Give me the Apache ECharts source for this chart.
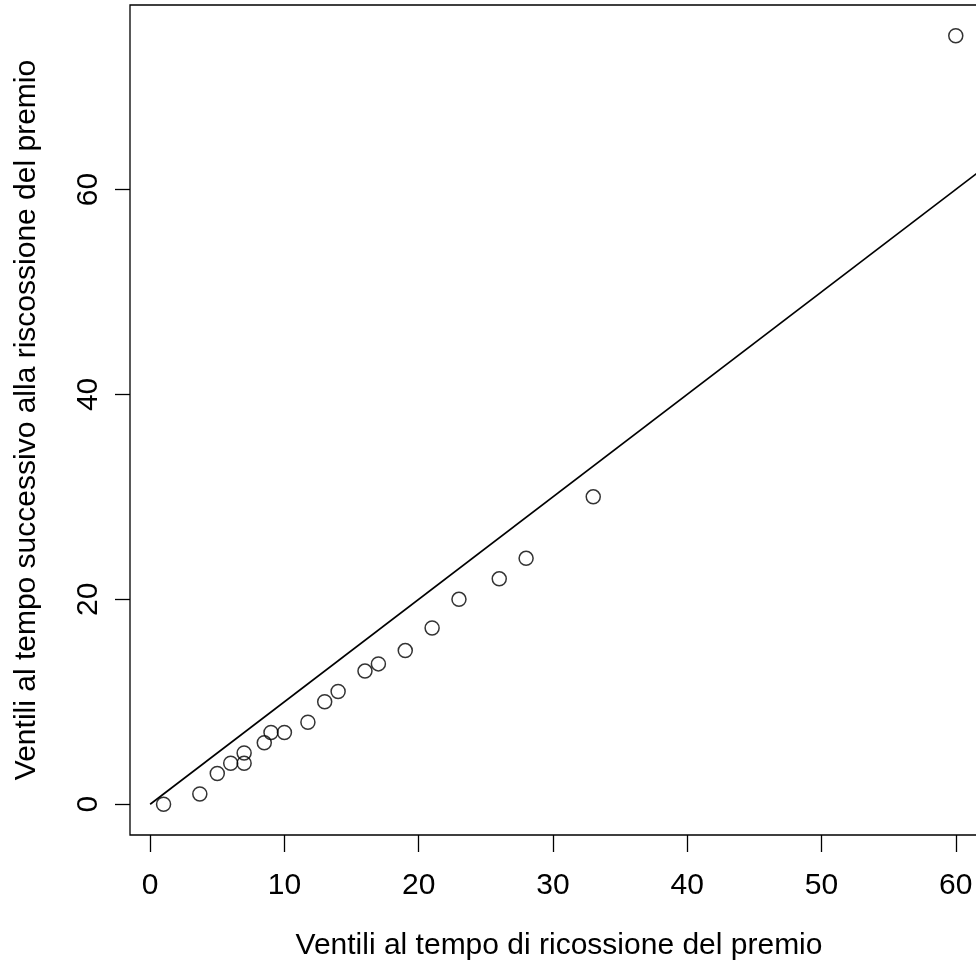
<!DOCTYPE html>
<html>
<head>
<meta charset="utf-8">
<script src="https://cdn.jsdelivr.net/npm/echarts@6/dist/echarts.min.js"></script>
<style>
  html, body { margin: 0; padding: 0; background: #ffffff; }
  #chart { width: 976px; height: 966px; }
</style>
</head>
<body>
<div id="chart"></div>
<script>
// Data
var ventiliPrima = [1, 3.7, 5, 6, 7, 7, 8.5, 9, 10, 11.75, 13, 14, 16, 17, 19, 21, 23, 26, 28, 33, 60];
var ventiliDopo  = [0, 1, 3, 4, 4, 5, 6, 7, 7, 8, 10, 11, 13, 13.7, 15, 17.2, 20, 22, 24, 30, 75];
var refLineX = [0, 70];
var refLineY = [0, 70];
var xTicks = [0, 10, 20, 30, 40, 50, 60];
var yTicks = [0, 20, 40, 60];
var xTitle = 'Ventili al tempo di ricossione del premio';
var yTitle = 'Ventili al tempo successivo alla riscossione del premio';

var points = ventiliPrima.map(function (x, i) { return [x, ventiliDopo[i]]; });
var refLine = refLineX.map(function (x, i) { return [x, refLineY[i]]; });

var FONT = 'Liberation Sans, Arial, sans-serif';
var FS = 30;

var chart = echarts.init(document.getElementById('chart'), null, { renderer: 'canvas' });
chart.setOption({
  animation: false,
  backgroundColor: '#ffffff',
  grid: {
    left: 130, top: 5, width: 858, height: 830,
    outerBoundsMode: 'none', containLabel: false,
    show: true, borderColor: '#000', borderWidth: 1.3, backgroundColor: 'transparent'
  },
  xAxis: {
    type: 'value', min: -1.5, max: 62.4,
    splitLine: { show: false },
    axisLine: { show: false, onZero: false },
    axisTick: { show: true, inside: false, length: 17, customValues: xTicks, lineStyle: { color: '#000', width: 1.3 } },
    axisLabel: { show: true, customValues: xTicks, margin: 36, color: '#000', fontSize: FS, fontFamily: FONT },
    name: xTitle, nameLocation: 'middle', nameGap: 96,
    nameTextStyle: { color: '#000', fontSize: FS, fontFamily: FONT }
  },
  yAxis: {
    type: 'value', min: -3, max: 78,
    splitLine: { show: false },
    axisLine: { show: false, onZero: false },
    axisTick: { show: true, inside: false, length: 15, customValues: yTicks, lineStyle: { color: '#000', width: 1.3 } },
    axisLabel: { show: true, customValues: yTicks, rotate: 90, margin: 26, color: '#000', fontSize: FS, fontFamily: FONT },
    name: yTitle, nameLocation: 'middle', nameGap: 88, nameRotate: 90,
    nameTextStyle: { color: '#000', fontSize: FS, fontFamily: FONT }
  },
  series: [
    {
      type: 'line', data: refLine, showSymbol: false, clip: true,
      lineStyle: { color: '#000', width: 1.6 }, silent: true
    },
    {
      type: 'scatter', data: points, symbol: 'circle', symbolSize: 14,
      itemStyle: { color: 'rgba(0,0,0,0)', borderColor: '#000', borderWidth: 1.5 },
      clip: false
    }
  ]
});
</script>
</body>
</html>
